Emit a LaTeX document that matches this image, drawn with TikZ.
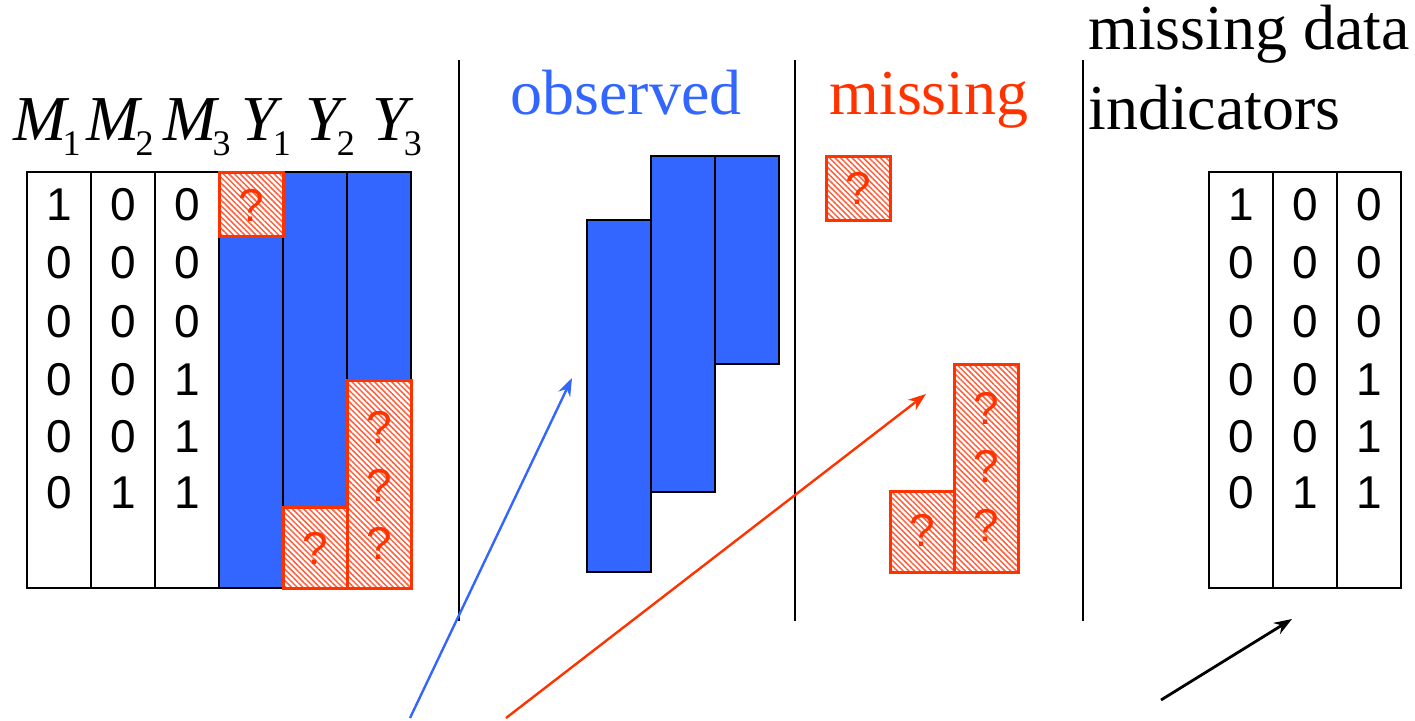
\documentclass[tikz,border=0pt]{standalone}
\usepackage{fontspec}
\setmainfont{Liberation Serif}
\newfontfamily\digitfont{Liberation Sans}
\usetikzlibrary{patterns.meta,arrows.meta}
\definecolor{obsblue}{RGB}{51,102,255}
\definecolor{misred}{RGB}{255,51,0}
\definecolor{hatchred}{RGB}{255,95,60}
\tikzset{
  tablebox/.style={draw=black,line width=1.3pt},
  obsbox/.style={draw=black,fill=obsblue,line width=1.3pt},
  misbox/.style={draw=misred,line width=1.5pt,
    pattern={Lines[angle=-45,distance=2pt,line width=0.75pt]},pattern color=hatchred},
  sepline/.style={draw=black,line width=1.1pt},
  digit/.style={font=\digitfont\fontsize{23}{23}\selectfont,inner sep=0pt},
  qmark/.style={font=\digitfont\fontsize{23}{23}\selectfont,text=misred,inner sep=0pt},
  varlabel/.style={font=\fontsize{32}{32}\selectfont,anchor=base west,inner sep=0pt},
  headlabel/.style={font=\fontsize{32}{36}\selectfont,anchor=base,inner sep=0pt},
  arr/.style={line width=1.2pt,-{Stealth[length=9pt,width=6.5pt]}}
}
\newcommand{\vlab}[2]{{\itshape #1}\kern-2pt\raisebox{-7.5pt}{\fontsize{18}{18}\selectfont #2}}
\begin{document}
\begin{tikzpicture}[x=0.5pt,y=-0.5pt]
\useasboundingbox (0,0) rectangle (1415,720);
% ---------- left table ----------
\draw[tablebox] (27,172) rectangle (91,588);
\draw[tablebox] (91,172) rectangle (155,588);
\draw[tablebox] (155,172) rectangle (219,588);
\draw[obsbox] (219,236) rectangle (283,588);
\draw[obsbox] (283,172) rectangle (347,507);
\draw[obsbox] (347,172) rectangle (411,380);
\draw[misbox] (219,172) rectangle (283,236);
\draw[misbox] (283,507) rectangle (347,588);
\draw[misbox] (347,380) rectangle (411,588);
\node[qmark] (q1) at (251,205) {?};
\node[qmark] (q2) at (315,548) {?};
\node[qmark] (q3) at (379,427) {?};
\node[qmark] (q4) at (379,485) {?};
\node[qmark] (q5) at (379,543) {?};
% variable labels
\node[varlabel] (m1) at (13,140) {\vlab{M}{1}};
\node[varlabel] (m2) at (86,140) {\vlab{M}{2}};
\node[varlabel] (m3) at (163,140) {\vlab{M}{3}};
\node[varlabel] (y1) at (241,140) {\vlab{Y}{1}};
\node[varlabel] (y2) at (305,140) {\vlab{Y}{2}};
\node[varlabel] (y3) at (372,140) {\vlab{Y}{3}};
% digits left
\foreach \r/\a/\b/\c [count=\i] in {205/1/0/0,263/0/0/0,322/0/0/0,380/0/0/1,437/0/0/1,493/0/1/1}{
  \node[digit] (la\i) at (59,\r) {\a};
  \node[digit] (lb\i) at (123,\r) {\b};
  \node[digit] (lc\i) at (187,\r) {\c};
}
% ---------- separators ----------
\draw[sepline] (459,60) -- (459,621);
\draw[sepline] (795,60) -- (795,621);
\draw[sepline] (1083,60) -- (1083,621);
% ---------- observed ----------
\node[headlabel,text=obsblue] (obs) at (626,114) {observed};
\draw[obsbox] (587,220) rectangle (651,572);
\draw[obsbox] (651,156) rectangle (715,492);
\draw[obsbox] (715,156) rectangle (779,364);
% ---------- missing ----------
\node[headlabel,text=misred] (mis) at (929,114) {missing};
\draw[misbox] (826,156) rectangle (890,220);
\draw[misbox] (890,491) rectangle (954,572);
\draw[misbox] (954,364) rectangle (1018,572);
\node[qmark] (q6) at (858,188) {?};
\node[qmark] (q7) at (922,530) {?};
\node[qmark] (q8) at (986,408) {?};
\node[qmark] (q9) at (986,466) {?};
\node[qmark] (q10) at (986,525) {?};
% ---------- indicators ----------
\node[font=\fontsize{32}{36}\selectfont,anchor=base west,inner sep=0pt] (ind1) at (1088,49) {missing data};
\node[font=\fontsize{32}{36}\selectfont,anchor=base west,inner sep=0pt] (ind2) at (1088,129) {indicators};
\draw[tablebox] (1209,172) rectangle (1273,588);
\draw[tablebox] (1273,172) rectangle (1337,588);
\draw[tablebox] (1337,172) rectangle (1401,588);
\foreach \r/\a/\b/\c [count=\i] in {205/1/0/0,263/0/0/0,322/0/0/0,380/0/0/1,437/0/0/1,493/0/1/1}{
  \node[digit] (ra\i) at (1241,\r) {\a};
  \node[digit] (rb\i) at (1305,\r) {\b};
  \node[digit] (rc\i) at (1369,\r) {\c};
}
% ---------- arrows ----------
\coordinate (bs) at (410,718);
\coordinate (be) at (572,378);
\coordinate (rs) at (506,718);
\coordinate (re) at (926,394);
\coordinate (ks) at (1161,700);
\coordinate (ke) at (1292,619);
\draw[arr,obsblue] (bs) -- (be);
\draw[arr,misred] (rs) -- (re);
\draw[arr,black,line width=1.4pt] (ks) -- (ke);
\end{tikzpicture}
\end{document}
